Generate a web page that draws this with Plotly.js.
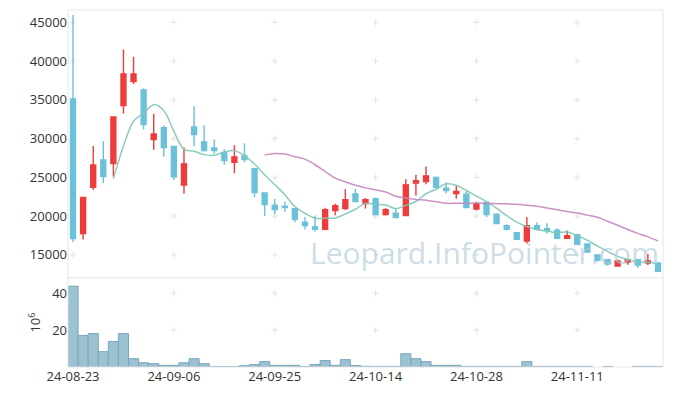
<!DOCTYPE html>
<html>
<head>
<meta charset="utf-8">
<script src="https://cdn.plot.ly/plotly-3.0.1.min.js"></script>
<style>html,body{margin:0;padding:0;background:#fff;}#chart{width:673px;height:396px;}</style>
</head>
<body>
<div id="chart"></div>
<script>
const dates = ['24-08-23','24-08-26','24-08-27','24-08-28','24-08-29','24-08-30',
  '24-09-02','24-09-03','24-09-04','24-09-05','24-09-06','24-09-09','24-09-10','24-09-11','24-09-12','24-09-13',
  '24-09-19','24-09-20','24-09-23','24-09-24','24-09-25','24-09-26','24-09-27','24-09-30',
  '24-10-02','24-10-04','24-10-07','24-10-08','24-10-10','24-10-11','24-10-14','24-10-15','24-10-16','24-10-17','24-10-18',
  '24-10-21','24-10-22','24-10-23','24-10-24','24-10-25','24-10-28','24-10-29','24-10-30','24-10-31',
  '24-11-01','24-11-04','24-11-05','24-11-06','24-11-07','24-11-08','24-11-11','24-11-12','24-11-13','24-11-14','24-11-15',
  '24-11-18','24-11-19','24-11-20','24-11-21'];
const openP  = [35100,17750,23700,27250,26780,34250,37350,36280,29870,31420,28970,24000,31500,29580,28800,28200,26950,27770,26100,23000,
  21410,21280,20940,19220,18620,18280,20730,20980,22870,21630,22230,20210,20380,20080,24250,24460,24980,23600,22920,22830,
  20900,21760,20250,18750,17850,16770,18750,18360,18190,17120,17590,16390,14970,14370,13550,14070,14370,13940,13940];
const highP  = [45950,22400,29050,29650,32800,41500,40550,36500,33200,31730,28970,28840,34170,31730,29920,28630,29150,29400,26100,23000,
  22230,21890,20940,19870,20080,21070,21590,23480,23480,22320,22400,21030,20980,24760,25320,26400,25100,24380,23900,23170,
  21840,21760,20380,18960,17850,19870,19180,19090,18450,18150,17590,16390,15060,14450,14370,14500,14370,15140,13940];
const lowP   = [16650,16990,23350,24250,25100,33250,37050,31200,28550,27640,24640,22870,29020,28330,28030,26610,25540,26950,22440,20000,
  20250,20550,19220,18280,18020,18200,20120,20770,21890,20980,20190,20080,19740,20080,22660,24120,23730,22960,22230,21110,
  20730,19870,19050,18280,16990,16470,18150,17720,17120,17120,16350,15360,14150,13600,13550,13720,13340,13680,12870];
const closeP = [17100,22400,26600,25100,32800,38350,38350,31800,30600,28840,25100,26740,30520,28450,28450,27170,27640,27300,23050,21500,
  20850,21110,19570,18790,18280,20810,21330,22100,21890,22100,20190,20810,19820,24030,24550,25190,23730,23300,23170,21110,
  21590,20210,19050,18280,16990,18750,18280,18110,17120,17460,16350,15360,14280,13810,14200,14370,13680,14200,12870];
const volume = [43.8,17.1,18.1,8.3,13.8,18.1,4.5,2.3,1.8,0.9,0.9,2.3,4.5,1.8,0.2,0.2,0.2,0.7,1.3,2.9,
  0.9,0.9,0.9,0.2,1.3,3.5,0.9,4.0,0.8,0.4,0.3,0.3,0.3,7.2,4.5,2.9,0.9,0.9,0.9,0.3,
  0.3,0.3,0.3,0.3,0.3,2.9,0.3,0.3,0.3,0.3,0.3,0.3,null,0.3,null,null,0.3,0.3,0.3];
const xTickIdx = [0,10,20,30,40,50];
const priceTicks = [15000,20000,25000,30000,35000,40000,45000];
const volTicks = [20,40];

function movingAvg(arr, n){
  return arr.map((v,i)=>{ if(i<n-1) return null; let s=0; for(let k=i-n+1;k<=i;k++) s+=arr[k]; return s/n; });
}
const ma5 = movingAvg(closeP,5);
const ma20 = movingAvg(closeP,20);

const RED = '#ee3b3b', BLUE = '#6cc1da';
const tickDates = xTickIdx.map(i=>dates[i]);

// faint '+' grid marks at tick intersections, drawn below the data
const CROSS = '#e2e2e2';
function crossShapes(yref, ticks){
  const out = [];
  tickDates.forEach(d=>ticks.forEach(v=>{
    out.push({type:'line',layer:'below',xref:'x',yref:yref,xsizemode:'pixel',xanchor:d,x0:-3,x1:3,y0:v,y1:v,line:{color:CROSS,width:1}});
    out.push({type:'line',layer:'below',xref:'x',yref:yref,ysizemode:'pixel',yanchor:v,y0:-3,y1:3,x0:d,x1:d,line:{color:CROSS,width:1}});
  }));
  return out;
}

const traces = [
  {type:'candlestick',x:dates,open:openP,high:highP,low:lowP,close:closeP,xaxis:'x',yaxis:'y',
   increasing:{line:{color:RED,width:1.4},fillcolor:RED},
   decreasing:{line:{color:BLUE,width:1.4},fillcolor:BLUE},
   whiskerwidth:0,showlegend:false},
  {type:'scatter',mode:'lines',x:dates,y:ma5,xaxis:'x',yaxis:'y',
   line:{color:'rgba(128,198,182,0.9)',width:1.5,shape:'spline'},showlegend:false},
  {type:'scatter',mode:'lines',x:dates,y:ma20,xaxis:'x',yaxis:'y',
   line:{color:'rgba(196,134,190,0.9)',width:1.5,shape:'spline'},showlegend:false},
  {type:'bar',x:dates,y:volume,xaxis:'x',yaxis:'y2',
   marker:{color:'#9cc2d2',line:{color:'#78a6bb',width:1}},showlegend:false}
];

const fontT = {family:'"Open Sans", sans-serif',size:13,color:'#333'};
const layout = {
  width:673,height:396,
  margin:{l:68,r:10,t:10,b:29},
  paper_bgcolor:'#fff',plot_bgcolor:'#fff',
  showlegend:false,
  bargap:0,
  boxgap:0.3,
  xaxis:{type:'category',categoryorder:'array',categoryarray:dates,anchor:'y2',range:[-0.5,dates.length-0.5],
    tickvals:tickDates,ticktext:tickDates,tickangle:0,showgrid:false,zeroline:false,
    showline:false,ticks:'',tickfont:fontT,rangeslider:{visible:false}},
  yaxis:{domain:[0.251,1],range:[12090,46590],tickvals:priceTicks,tickformat:'d',showgrid:false,zeroline:false,
    showline:false,ticks:'',tickfont:fontT},
  yaxis2:{domain:[0,0.249],range:[0,48.2],tickvals:volTicks,showgrid:false,zeroline:false,
    showline:false,ticks:'',tickfont:fontT,
    title:{text:'10<sup>6</sup>',font:{family:'"Open Sans", sans-serif',size:13,color:'#333'},standoff:8}},
  shapes:[
    ...crossShapes('y',priceTicks),
    ...crossShapes('y2',volTicks),
    {type:'rect',xref:'paper',yref:'paper',x0:0,x1:1,y0:0,y1:1,line:{color:'#e6e6e6',width:1}},
    {type:'line',xref:'paper',yref:'paper',x0:0,x1:1,y0:0.25,y1:0.25,line:{color:'#e6e6e6',width:1}}
  ],
  annotations:[
    {text:'Leopard.InfoPointer.com',xref:'paper',yref:'paper',x:0.70,y:0.322,xanchor:'center',yanchor:'middle',
     showarrow:false,font:{family:'"Open Sans", sans-serif',size:30,color:'rgba(170,198,216,0.6)'}}
  ]
};
Plotly.newPlot('chart',traces,layout,{staticPlot:true});
</script>
</body>
</html>
